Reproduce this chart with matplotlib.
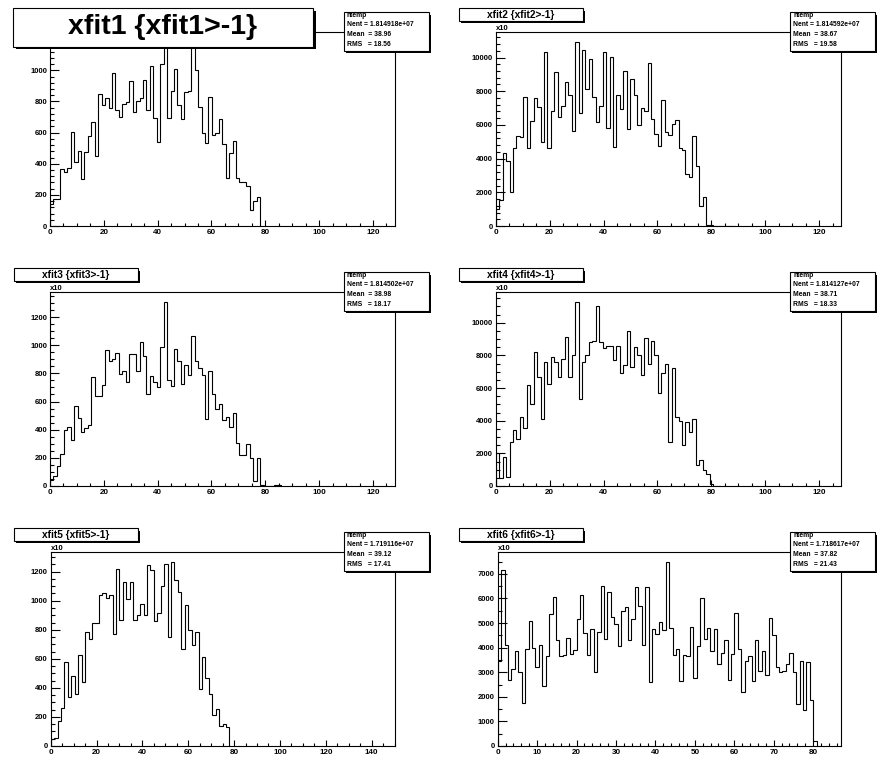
import numpy as np
import matplotlib
matplotlib.use("Agg")
import matplotlib.pyplot as plt
from matplotlib.patches import Rectangle
from matplotlib.ticker import MultipleLocator

# ---------------- data (bin contents) ----------------
xfit1 = [140, 175, 175, 365, 350, 370, 605, 410, 480, 300, 475, 575, 665, 450, 850, 775,
         825, 755, 985, 745, 700, 785, 795, 930, 735, 805, 825, 935, 745, 1025, 695, 540,
         1040, 1180, 695, 870, 1010, 780, 690, 860, 870, 1185, 1000, 765, 600, 535, 830,
         585, 600, 685, 525, 310, 470, 545, 310, 280, 280, 255, 100, 160, 185]
xfit2 = [1000, 1520, 4320, 3830, 2000, 4630, 5350, 5300, 7650, 4620, 6230, 7600, 7050,
         4980, 10350, 4650, 6800, 9150, 6450, 7100, 8520, 7760, 5620, 10950, 6700, 10420,
         8150, 9900, 7650, 6150, 7100, 10320, 5800, 10020, 4660, 7760, 6930, 9200, 5750,
         8700, 7770, 6000, 7000, 6800, 9650, 6350, 5450, 4750, 7480, 5600, 5400, 6050,
         6300, 4620, 4520, 3100, 2920, 5350, 3560, 1200, 1750, 60, 30, 0, 0, 0, 0, 25, 25]
xfit3 = [45, 70, 140, 225, 395, 420, 325, 565, 480, 380, 415, 435, 775, 640, 640, 720,
         965, 885, 905, 945, 795, 820, 740, 940, 940, 820, 1025, 920, 655, 780, 735, 700,
         990, 1310, 750, 710, 975, 885, 725, 860, 790, 1065, 885, 835, 790, 475, 815, 655,
         545, 585, 470, 490, 420, 515, 305, 220, 220, 300, 200, 35, 200, 8, 0, 0, 0, 5, 5]
xfit4 = [2000, 500, 1800, 550, 2700, 3450, 2900, 4250, 3550, 6200, 5000, 8200, 6650, 4100,
         7600, 6250, 7900, 7600, 6700, 7800, 9100, 6650, 8000, 11300, 5300, 7600, 8050,
         8800, 8900, 11000, 8800, 8450, 8600, 8600, 7700, 8550, 6900, 7400, 9500, 7300,
         8500, 8000, 6800, 9050, 7500, 8900, 8000, 5700, 6900, 7500, 2700, 7200, 4200,
         4000, 2500, 3900, 3300, 4100, 1300, 1600, 950, 750, 100, 30, 30]
xfit5 = [45, 55, 175, 265, 580, 340, 485, 360, 625, 440, 785, 735, 850, 850, 1040, 1055,
         1020, 1040, 770, 1220, 870, 1130, 1010, 1130, 865, 900, 980, 900, 1245, 1210, 860,
         915, 1100, 1250, 750, 1270, 1145, 1060, 665, 970, 800, 695, 785, 390, 615, 465,
         355, 210, 255, 135, 150, 130]
xfit6 = [3450, 7150, 4100, 2700, 3150, 3850, 3000, 1750, 3950, 5100, 4000, 3200, 4100, 2450,
         3650, 5350, 6050, 4300, 3650, 3700, 4400, 3750, 3900, 5150, 6150, 4600, 3700, 4750,
         3000, 4650, 6500, 4350, 6250, 5250, 4950, 4050, 5500, 5650, 4300, 5150, 6450, 5700,
         4100, 6450, 2600, 4750, 4550, 5050, 4700, 7500, 4800, 3700, 3950, 2650, 3700, 3650,
         4850, 2750, 4050, 6000, 4350, 4800, 3850, 4750, 3350, 3800, 4300, 2700, 3750, 5400,
         3950, 2200, 3450, 3650, 2650, 4300, 3050, 3850, 2900, 5200, 4500, 3200, 3000, 3050,
         3350, 3800, 3000, 1700, 3450, 1450, 3400, 1850, 200]

titles = ["xfit1 {xfit1>-1}", "xfit2 {xfit2>-1}", "xfit3 {xfit3>-1}",
          "xfit4 {xfit4>-1}", "xfit5 {xfit5>-1}", "xfit6 {xfit6>-1}"]
nent = ["1.814918e+07", "1.814592e+07", "1.814502e+07",
        "1.814127e+07", "1.719116e+07", "1.718617e+07"]
means = ["38.96", "38.67", "38.98", "38.71", "39.12", "37.82"]
rmss = ["18.56", "19.58", "18.17", "18.33", "17.41", "21.43"]
xranges = [(0, 128), (0, 128), (0, 128), (0, 128), (0, 150), (0, 87)]
ymajor = [200, 2000, 200, 2000, 200, 1000]
yminor = [40, 400, 50, 500, 50, 500]
xmajor = [20, 20, 20, 20, 20, 10]
xminor = [5, 5, 5, 5, 5, 2]
nbins = 100

# ---------------- layout ----------------
W, H = 893, 780
fig = plt.figure(figsize=(W / 100, H / 100), dpi=100)
fig.patch.set_facecolor("white")
FONT = "Liberation Sans"

pads = [(0, 0), (445, 0), (0, 260), (445, 260), (0, 520), (445, 520)]
frame_left = [50, 50.7, 50, 50.7, 50.7, 52.7]
frame_right = [394.5, 395.7, 394.5, 395.7, 394.5, 395.7]
frame_top, frame_bottom = 32.3, 226

ov = fig.add_axes([0, 0, 1, 1])
ov.set_xlim(0, W)
ov.set_ylim(H, 0)
ov.axis("off")
ov.set_zorder(10)


def shadow_box(x0, y0, x1, y1, sh=2.3):
    ov.add_patch(Rectangle((x0 + sh, y0 + sh), x1 - x0, y1 - y0, fc="black", ec="none"))
    ov.add_patch(Rectangle((x0, y0), x1 - x0, y1 - y0, fc="white", ec="black", lw=0.8))


data = [xfit1, xfit2, xfit3, xfit4, xfit5, xfit6]
for i, vals in enumerate(data):
    ox, oy = pads[i]
    L = ox + frame_left[i]
    R = ox + frame_right[i]
    T = oy + frame_top
    B = oy + frame_bottom
    ax = fig.add_axes([L / W, 1 - B / H, (R - L) / W, (B - T) / H])
    x0, x1 = xranges[i]
    edges = np.linspace(x0, x1, nbins + 1)[: len(vals) + 1]
    ax.stairs(vals, edges, baseline=0, color="black", lw=0.8)
    ax.set_xlim(x0, x1)
    ax.set_ylim(0, 1.05 * max(vals))
    for s in ax.spines.values():
        s.set_linewidth(0.8)
    ax.xaxis.set_major_locator(MultipleLocator(xmajor[i]))
    ax.xaxis.set_minor_locator(MultipleLocator(xminor[i]))
    ax.yaxis.set_major_locator(MultipleLocator(ymajor[i]))
    ax.yaxis.set_minor_locator(MultipleLocator(yminor[i]))
    ax.tick_params(axis="y", which="major", direction="in", length=6.5, width=0.8, pad=2,
                   labelsize=5.5)
    ax.tick_params(axis="y", which="minor", direction="in", length=3.2, width=0.8)
    ax.tick_params(axis="x", which="major", direction="in", length=4.3, width=0.8, pad=2.5,
                   labelsize=5.8)
    ax.tick_params(axis="x", which="minor", direction="in", length=2.2, width=0.8)
    for lab in ax.get_xticklabels() + ax.get_yticklabels():
        lab.set_fontfamily(FONT)
        lab.set_fontweight("bold")
    ax.xaxis.set_major_formatter(matplotlib.ticker.FuncFormatter(lambda v, p: f"{v:.0f}"))
    ax.yaxis.set_major_formatter(matplotlib.ticker.FuncFormatter(lambda v, p: f"{v:.0f}"))

    # x10 exponent label
    ov.text(L, T - 3.5, "x10", ha="left", va="center", fontsize=5.5, fontweight="bold",
            family=FONT, zorder=1)

    # title box
    if i == 0:
        shadow_box(13, 8, 313, 46.5, sh=2.5)
        ov.text(163, 27.5, titles[i], ha="center", va="center", fontsize=20.5,
                fontweight="bold", family=FONT)
    else:
        shadow_box(ox + 14, oy + 8.3, ox + 137.5, oy + 21, sh=2.2)
        ov.text(ox + 75.7, oy + 14.8, titles[i], ha="center", va="center", fontsize=7.3,
                fontweight="bold", family=FONT)

    # stats box
    sx0, sx1 = R - 51, R + 34.5
    sy0, sy1 = oy + 12.3, oy + 51
    shadow_box(sx0, sy0, sx1, sy1, sh=2.2)
    lines = ["htemp", f"Nent = {nent[i]}", f"Mean  = {means[i]}", f"RMS   = {rmss[i]}"]
    rows = [15.3, 25, 34.5, 44]
    for txt, ry in zip(lines, rows):
        ov.text(sx0 + 3.3, oy + ry, txt, ha="left", va="center", fontsize=4.9,
                fontweight="bold", family=FONT)

fig.savefig("out.png", dpi=100, facecolor="white")
